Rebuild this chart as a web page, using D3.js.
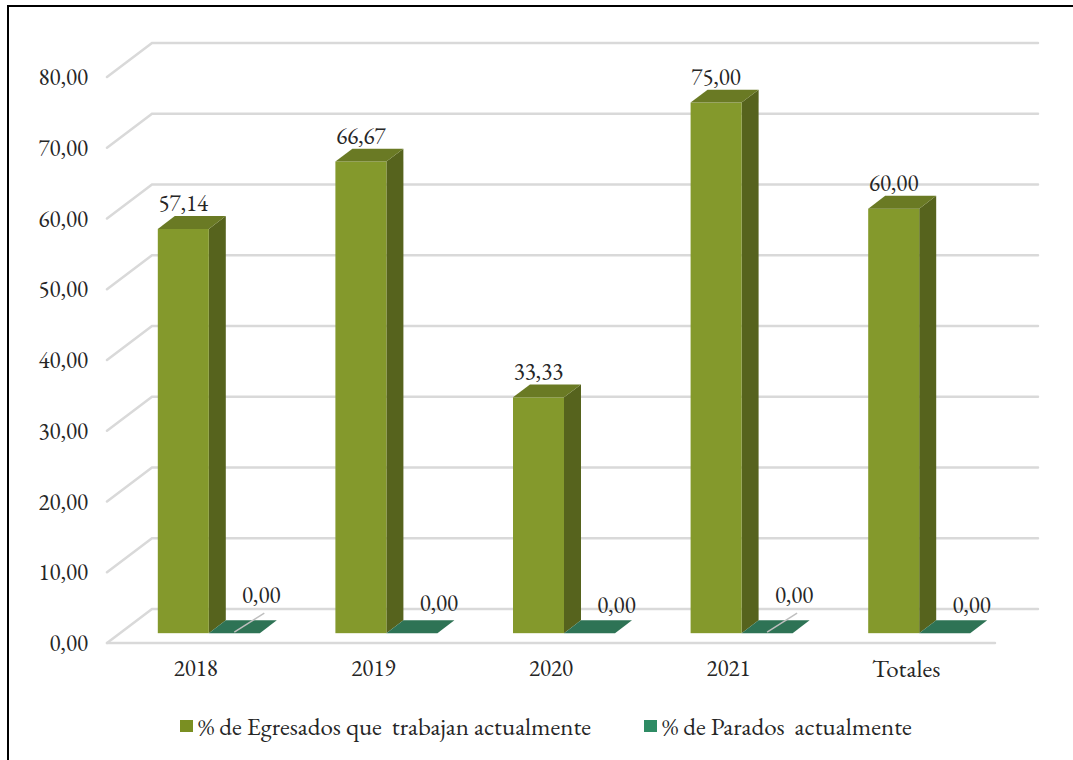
<!DOCTYPE html>
<html><head><meta charset="utf-8">
<script src="https://cdn.jsdelivr.net/npm/d3@7"></script>
<style>
html,body{margin:0;padding:0;background:#fff;}
</style></head>
<body><svg id="chart" width="1073" height="760"></svg>
<script>
const categories = ["2018","2019","2020","2021","Totales"];
const trabajan = [57.14, 66.67, 33.33, 75.00, 60.00];
const parados = [0.00, 0.00, 0.00, 0.00, 0.00];
const yTicks = [0,10,20,30,40,50,60,70,80];
const seriesNames = ["% de Egresados que  trabajan actualmente", "% de Parados  actualmente"];
const zeroLabelLift = [38, 30, 28, 38, 28];

const FS = 23, FS_TXT = 25;
const FONT = '"EB Garamond", "Liberation Serif", serif';
const svg = d3.select("#chart").style("font-family", FONT);
const fmt = v => d3.format(".2f")(v).replace(".", ",");

const x = d3.scaleBand().domain(categories).range([107, 995]).paddingInner(0).paddingOuter(0);
const y = d3.scaleLinear().domain([0, 80]).range([643, 77]);
const k = 34/45;
const wallD = 45;
const barD0 = 13, barD1 = 30;
const barW = 51;

svg.append("rect").attr("x",8).attr("y",6).attr("width",1080).attr("height",770)
  .attr("fill","none").attr("stroke","#000").attr("stroke-width",2);

const grid = svg.append("g").attr("stroke","#d9d9d9").attr("stroke-width",2.5).attr("fill","none").attr("stroke-linecap","round");
yTicks.forEach(t => {
  const yf = y(t);
  grid.append("path").attr("d", `M107,${yf}L${107+wallD},${yf-wallD*k}L1038,${yf-wallD*k}`);
});
grid.append("line").attr("x1",107).attr("x2",995).attr("y1",y(0)).attr("y2",y(0));

function txt(sel, fs){ return sel.style("font-family", FONT).attr("font-size", fs || FS).attr("fill","#262626"); }

txt(svg.append("g").selectAll("text").data(yTicks).join("text"))
  .attr("x", 88).attr("y", d => y(d)).attr("dy","0.35em").attr("text-anchor","end")
  .text(d => fmt(d));

txt(svg.append("g").selectAll("text").data(categories).join("text"))
  .attr("font-size", d => isNaN(+d) ? FS_TXT : FS)
  .attr("x", d => x(d) + x.bandwidth()/2).attr("y", 668).attr("dy","0.35em")
  .attr("text-anchor","middle").text(d => d);

function bar(g, x0, v, cFront, cSide, cTop) {
  const dxF = barD0, dyF = -barD0*k;
  const d = barD1 - barD0, dd = d*k;
  const xl = x0 + dxF, xr = xl + barW;
  const yb = y(0) + dyF, yt = y(v) + dyF;
  if (v > 0) {
    g.append("path").attr("d",`M${xr},${yb}L${xr+d},${yb-dd}L${xr+d},${yt-dd}L${xr},${yt}Z`).attr("fill",cSide);
    g.append("rect").attr("x",xl).attr("y",yt).attr("width",barW).attr("height",yb-yt).attr("fill",cFront);
  }
  g.append("path").attr("d",`M${xl},${yt}L${xl+d},${yt-dd}L${xr+d},${yt-dd}L${xr},${yt}Z`).attr("fill",cTop);
  return {cx: xl + barW/2, yt};
}

const gap = (x.bandwidth() - 2*barW)/2;
const bars = svg.append("g");
const labels = svg.append("g").attr("text-anchor","middle");
categories.forEach((c,i) => {
  const x0 = x(c) + gap;
  const b1 = bar(bars, x0, trabajan[i], "#84992c", "#56631d", "#6a7a24");
  txt(labels.append("text")).attr("x", b1.cx).attr("y", b1.yt - 26).attr("dy","0.35em").text(fmt(trabajan[i]));
  const b2 = bar(bars, x0 + barW, parados[i], "#2e7355", "#1f5a40", "#2e7355");
  const lx = b2.cx + 27, ly = b2.yt - zeroLabelLift[i];
  if (zeroLabelLift[i] > 32) {
    bars.append("line").attr("x1", b2.cx).attr("y1", b2.yt-1).attr("x2", b2.cx + 30).attr("y2", b2.yt - 20)
      .attr("stroke","#bfbfbf").attr("stroke-width",1.5);
  }
  txt(labels.append("text")).attr("x", lx).attr("y", ly).attr("dy","0.35em").text(fmt(parados[i]));
});

const leg = svg.append("g");
const legItems = [{x:180, c:"#7a8f22", t:seriesNames[0]},{x:644, c:"#2e8b64", t:seriesNames[1]}];
legItems.forEach(l => {
  leg.append("rect").attr("x", l.x).attr("y", 720).attr("width",13).attr("height",12).attr("fill", l.c);
  txt(leg.append("text"), FS_TXT).attr("x", l.x + 18).attr("y", 726).attr("dy","0.35em").attr("xml:space","preserve")
    .style("white-space","pre").text(l.t);
});
</script></body></html>
